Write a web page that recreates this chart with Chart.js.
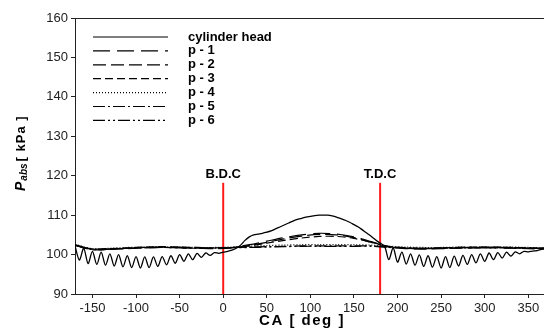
<!DOCTYPE html>
<html>
<head>
<meta charset="utf-8">
<script src="https://cdn.jsdelivr.net/npm/chart.js@4.4.0/dist/chart.umd.min.js"></script>
<style>
  body { margin: 0; background: #fff; }
  canvas { display: block; }
</style>
</head>
<body>
<canvas id="chart" width="544" height="336"></canvas>
<script>
// crank angle for the cylinder head trace (deg)
const headAngle = [
  -170, -165, -160, -155, -150, -145, -140, -135, -130, -125, -120, -115, -110, -105, -100, -95,
  -90, -85, -80, -75, -70, -65, -60, -55, -50, -45, -40, -35, -30, -25, -20, -15, -10, -5,
  0, 5, 10, 15, 20, 25, 30, 35, 40, 45, 50, 55, 60, 65, 70, 75, 80, 85, 90, 95,
  100, 105, 110, 115, 120, 125, 130, 135, 140, 145, 150, 155, 160, 165, 170, 175, 180, 185,
  190, 195, 200, 205, 210, 215, 220, 225, 230, 235, 240, 245, 250, 255, 260, 265, 270, 275,
  280, 285, 290, 295, 300, 305, 310, 315, 320, 325, 330, 335, 340, 345, 350, 355, 360, 365, 370
]
const headPressure = [
  102.2, 98.6, 101.6, 97.7, 100.8, 97.5, 100.6, 97.3, 100.2, 97.1, 100.0, 96.9, 99.7, 96.7, 99.5, 96.6,
  99.4, 96.7, 99.4, 97.0, 99.5, 97.4, 99.7, 97.8, 100.0, 98.3, 100.2, 98.7, 100.3, 99.3, 100.4, 99.8, 100.5, 100.3,
  100.6, 100.8, 101.1, 101.6, 102.4, 103.6, 104.5, 105.0, 105.2, 105.4, 105.7, 106.0, 106.5, 107.0, 107.5, 108.0, 108.5, 108.9, 109.2, 109.5,
  109.7, 109.9, 110.0, 110.0, 110.0, 109.8, 109.5, 109.1, 108.7, 108.2, 107.6, 107.0, 106.2, 105.4, 104.6, 103.7, 102.9, 102.2,
  98.7, 101.7, 98.1, 100.6, 97.6, 100.2, 97.3, 99.9, 97.0, 99.7, 96.8, 99.5, 96.6, 99.5, 96.7, 99.6, 97.1, 99.8,
  97.5, 100.0, 97.9, 100.2, 98.3, 100.4, 98.7, 100.5, 99.1, 100.6, 99.6, 100.7, 100.2, 100.8, 100.7, 100.9, 101.0, 101.3, 101.5
]

// crank angle for the port traces (deg)
const portAngle = [
  -170, -150, -130, -110, -90, -70, -50, -30, -10, 10, 30, 50, 70, 90,
  110, 130, 150, 170, 190, 210, 230, 250, 270, 290, 310, 330, 350, 370
]
const p1 = [102.4, 101.3, 101.4, 101.6, 101.8, 101.9, 101.8, 101.7, 101.6, 101.8, 102.5, 103.4, 104.3, 105.0,
  105.4, 105.2, 104.5, 103.3, 102.0, 101.6, 101.5, 101.6, 101.7, 101.8, 101.8, 101.7, 101.6, 101.5]
const p2 = [102.3, 101.2, 101.3, 101.5, 101.7, 101.8, 101.7, 101.6, 101.5, 101.7, 102.3, 103.1, 104.0, 104.7,
  105.1, 105.0, 104.3, 103.1, 101.9, 101.5, 101.4, 101.5, 101.6, 101.7, 101.7, 101.6, 101.5, 101.4]
const p3 = [102.5, 101.4, 101.5, 101.7, 101.9, 102.0, 101.9, 101.8, 101.7, 101.8, 102.2, 102.9, 103.6, 104.2,
  104.6, 104.6, 104.1, 103.1, 102.1, 101.7, 101.6, 101.7, 101.8, 101.9, 101.9, 101.8, 101.7, 101.6]
const p4 = [102.6, 101.5, 101.6, 101.8, 101.9, 102.0, 101.9, 101.8, 101.8, 101.9, 102.1, 102.3, 102.4, 102.5,
  102.5, 102.5, 102.5, 102.4, 102.1, 101.9, 101.8, 101.8, 101.9, 101.9, 101.9, 101.9, 101.8, 101.7]
const p5 = [102.3, 101.4, 101.5, 101.6, 101.8, 101.9, 101.8, 101.7, 101.7, 101.8, 101.9, 102.0, 102.1, 102.2,
  102.2, 102.2, 102.2, 102.2, 101.9, 101.7, 101.6, 101.7, 101.8, 101.8, 101.8, 101.8, 101.7, 101.6]
const p6 = [102.4, 101.3, 101.4, 101.6, 101.7, 101.8, 101.7, 101.6, 101.6, 101.7, 101.8, 101.9, 102.0, 102.1,
  102.1, 102.1, 102.1, 102.1, 101.8, 101.6, 101.5, 101.6, 101.7, 101.7, 101.7, 101.7, 101.6, 101.5]

const seriesNames = ["cylinder head", "p - 1", "p - 2", "p - 3", "p - 4", "p - 5", "p - 6"]

// dead centre markers
const markerAngle = [0, 180]
const markerLabels = ["B.D.C", "T.D.C"]
const markerTop = 118.2

const xTicks = [-150, -100, -50, 0, 50, 100, 150, 200, 250, 300, 350]
const yTicks = [90, 100, 110, 120, 130, 140, 150, 160]

function toPoints(xs, ys) {
  return xs.map((x, i) => ({ x: x, y: ys[i] }))
}

const dashes = [[], [17, 7], [13, 5], [8, 4], [1, 2], [12, 3, 2, 3], [12, 3, 2, 3, 2, 3]]
const seriesData = [headPressure, p1, p2, p3, p4, p5, p6]

const datasets = seriesData.map((ys, i) => ({
  label: seriesNames[i],
  data: toPoints(i === 0 ? headAngle : portAngle, ys),
  borderColor: "#000",
  borderWidth: i === 0 ? 1.3 : 1.2,
  borderDash: dashes[i],
  pointRadius: 0,
  tension: 0.3,
  fill: false,
}))

// red vertical markers
markerAngle.forEach((a) => {
  datasets.push({
    label: "",
    data: [{ x: a, y: 90 }, { x: a, y: markerTop }],
    borderColor: "#ff1a1a",
    borderWidth: 2,
    pointRadius: 0,
    fill: false,
  })
})

// legend, axis titles and marker labels
const overlay = {
  id: "overlay",
  afterDraw(chart) {
    const { ctx, chartArea, scales } = chart
    ctx.save()

    // top frame line
    ctx.strokeStyle = "#222"
    ctx.lineWidth = 1
    ctx.beginPath()
    ctx.moveTo(chartArea.left, chartArea.top + 0.5)
    ctx.lineTo(chartArea.right, chartArea.top + 0.5)
    ctx.stroke()

    // marker labels
    ctx.fillStyle = "#000"
    ctx.font = "bold 13px Arial, 'Liberation Sans'"
    ctx.textAlign = "center"
    ctx.textBaseline = "middle"
    markerAngle.forEach((a, i) => {
      ctx.fillText(markerLabels[i], scales.x.getPixelForValue(a), scales.y.getPixelForValue(markerTop) - 8)
    })

    // legend
    ctx.textAlign = "left"
    seriesNames.forEach((name, i) => {
      const y = 37 + i * 13.9
      ctx.setLineDash(dashes[i])
      ctx.lineWidth = 1.2
      ctx.strokeStyle = "#000"
      ctx.beginPath()
      ctx.moveTo(93, y)
      ctx.lineTo(168, y)
      ctx.stroke()
      ctx.setLineDash([])
      ctx.fillText(name, 188, y)
    })

    // x title
    ctx.textAlign = "center"
    ctx.font = "bold 15px Arial, 'Liberation Sans'"
    ctx.letterSpacing = "1.5px"
    ctx.fillText("CA [ deg ]", 302, 321)

    // y title, rotated
    ctx.translate(21, 191)
    ctx.rotate(-Math.PI / 2)
    ctx.textAlign = "left"
    ctx.letterSpacing = "0px"
    ctx.font = "italic bold 14px Arial, 'Liberation Sans'"
    ctx.fillText("P", 0, 0)
    let w = ctx.measureText("P").width + 1
    ctx.font = "italic bold 10px Arial, 'Liberation Sans'"
    ctx.fillText("abs", w, 3)
    w += ctx.measureText("abs").width + 2
    ctx.font = "bold 13px Arial, 'Liberation Sans'"
    ctx.letterSpacing = "1px"
    ctx.fillText("[ kPa ]", w, 0)

    ctx.restore()
  },
}

new Chart(document.getElementById("chart"), {
  type: "line",
  data: { datasets: datasets },
  options: {
    responsive: false,
    animation: false,
    layout: { padding: { top: 18, right: 0, left: 0, bottom: 0 } },
    plugins: {
      legend: { display: false },
      tooltip: { enabled: false },
    },
    scales: {
      x: {
        type: "linear",
        min: -170,
        max: 368,
        afterFit: (scale) => { scale.height = 42 },
        afterBuildTicks: (scale) => { scale.ticks = xTicks.map((v) => ({ value: v })) },
        ticks: {
          color: "#222",
          font: { family: "Arial, 'Liberation Sans'", size: 13 },
          padding: 3,
          maxRotation: 0,
        },
        grid: { display: true, drawOnChartArea: false, drawTicks: true, tickLength: 4, color: "#222" },
        border: { display: true, color: "#222", width: 1 },
      },
      y: {
        min: 90,
        max: 160,
        afterFit: (scale) => { scale.width = 75 },
        afterBuildTicks: (scale) => { scale.ticks = yTicks.map((v) => ({ value: v })) },
        ticks: {
          color: "#222",
          font: { family: "Arial, 'Liberation Sans'", size: 13 },
          padding: 3,
        },
        grid: { display: true, drawOnChartArea: false, drawTicks: true, tickLength: 4, color: "#222" },
        border: { display: true, color: "#222", width: 1 },
      },
    },
  },
  plugins: [overlay],
})
</script>
</body>
</html>
